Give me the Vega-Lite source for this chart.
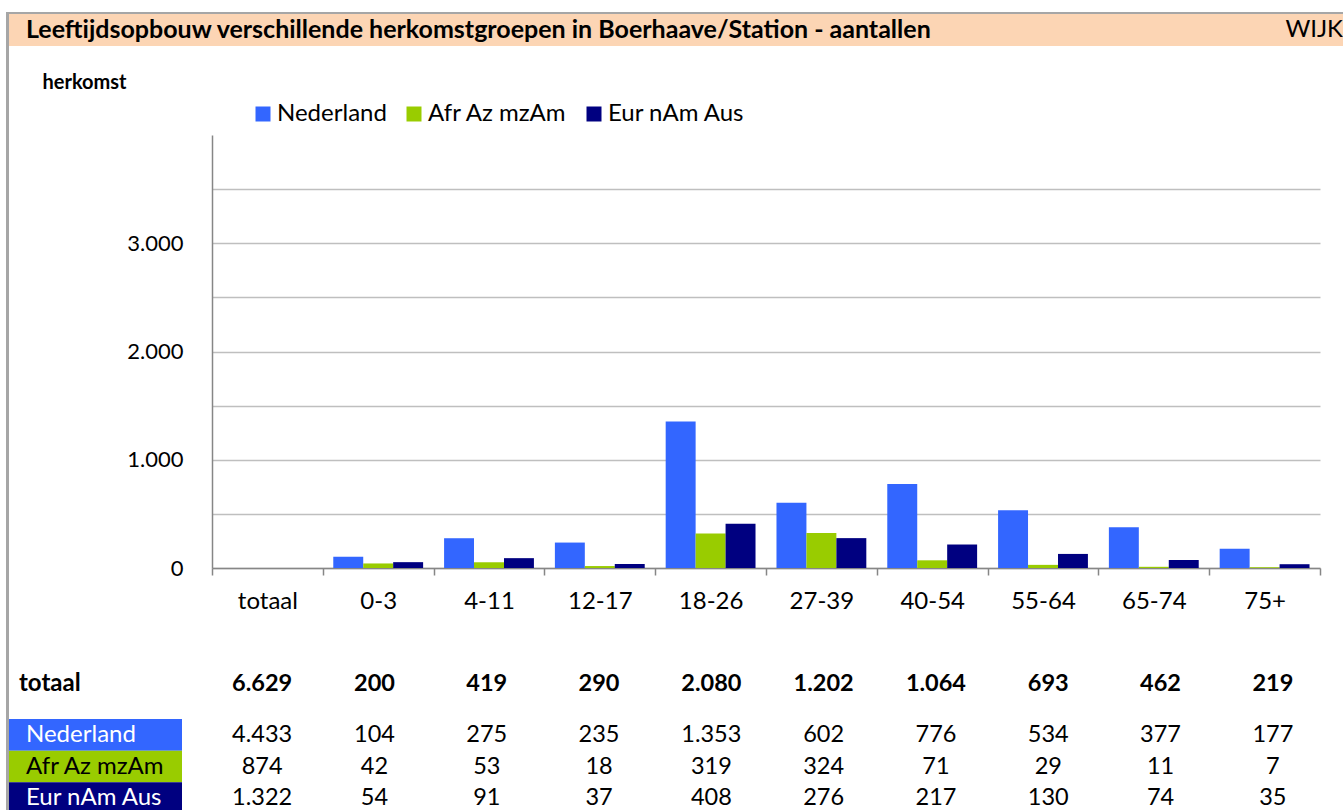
{
  "$schema": "https://vega.github.io/schema/vega-lite/v6.json",
  "background": "white",
  "padding": {"left": 6, "top": 12, "right": 0, "bottom": 0},
  "config": {
    "font": "Lato",
    "view": {"stroke": null},
    "locale": {"number": {"decimal": ",", "thousands": ".", "grouping": [3], "currency": ["€", ""]}},
    "text": {"fontSize": 23, "color": "black"}
  },
  "datasets": {
    "aantallen": [
      {"herkomst": "Nederland", "leeftijd": "totaal", "aantal": 4433},
      {"herkomst": "Nederland", "leeftijd": "0-3", "aantal": 104},
      {"herkomst": "Nederland", "leeftijd": "4-11", "aantal": 275},
      {"herkomst": "Nederland", "leeftijd": "12-17", "aantal": 235},
      {"herkomst": "Nederland", "leeftijd": "18-26", "aantal": 1353},
      {"herkomst": "Nederland", "leeftijd": "27-39", "aantal": 602},
      {"herkomst": "Nederland", "leeftijd": "40-54", "aantal": 776},
      {"herkomst": "Nederland", "leeftijd": "55-64", "aantal": 534},
      {"herkomst": "Nederland", "leeftijd": "65-74", "aantal": 377},
      {"herkomst": "Nederland", "leeftijd": "75+", "aantal": 177},
      {"herkomst": "Afr Az mzAm", "leeftijd": "totaal", "aantal": 874},
      {"herkomst": "Afr Az mzAm", "leeftijd": "0-3", "aantal": 42},
      {"herkomst": "Afr Az mzAm", "leeftijd": "4-11", "aantal": 53},
      {"herkomst": "Afr Az mzAm", "leeftijd": "12-17", "aantal": 18},
      {"herkomst": "Afr Az mzAm", "leeftijd": "18-26", "aantal": 319},
      {"herkomst": "Afr Az mzAm", "leeftijd": "27-39", "aantal": 324},
      {"herkomst": "Afr Az mzAm", "leeftijd": "40-54", "aantal": 71},
      {"herkomst": "Afr Az mzAm", "leeftijd": "55-64", "aantal": 29},
      {"herkomst": "Afr Az mzAm", "leeftijd": "65-74", "aantal": 11},
      {"herkomst": "Afr Az mzAm", "leeftijd": "75+", "aantal": 7},
      {"herkomst": "Eur nAm Aus", "leeftijd": "totaal", "aantal": 1322},
      {"herkomst": "Eur nAm Aus", "leeftijd": "0-3", "aantal": 54},
      {"herkomst": "Eur nAm Aus", "leeftijd": "4-11", "aantal": 91},
      {"herkomst": "Eur nAm Aus", "leeftijd": "12-17", "aantal": 37},
      {"herkomst": "Eur nAm Aus", "leeftijd": "18-26", "aantal": 408},
      {"herkomst": "Eur nAm Aus", "leeftijd": "27-39", "aantal": 276},
      {"herkomst": "Eur nAm Aus", "leeftijd": "40-54", "aantal": 217},
      {"herkomst": "Eur nAm Aus", "leeftijd": "55-64", "aantal": 130},
      {"herkomst": "Eur nAm Aus", "leeftijd": "65-74", "aantal": 74},
      {"herkomst": "Eur nAm Aus", "leeftijd": "75+", "aantal": 35}
    ],
    "totalen": [
      {"leeftijd": "totaal", "aantal": 6629},
      {"leeftijd": "0-3", "aantal": 200},
      {"leeftijd": "4-11", "aantal": 419},
      {"leeftijd": "12-17", "aantal": 290},
      {"leeftijd": "18-26", "aantal": 2080},
      {"leeftijd": "27-39", "aantal": 1202},
      {"leeftijd": "40-54", "aantal": 1064},
      {"leeftijd": "55-64", "aantal": 693},
      {"leeftijd": "65-74", "aantal": 462},
      {"leeftijd": "75+", "aantal": 219}
    ],
    "kop": [
      {"deel": "titel", "tekst": "Leeftijdsopbouw verschillende herkomstgroepen in Boerhaave/Station - aantallen"},
      {"deel": "niveau", "tekst": "WIJK"}
    ]
  },
  "spacing": 0,
  "resolve": {"scale": {"color": "independent", "fill": "independent"}, "legend": {"color": "independent", "fill": "independent"}},
  "hconcat": [
    {
      "width": 3, "height": 804,
      "view": {"fill": "#A6A6A6", "stroke": null},
      "data": {"values": [{}]},
      "mark": {"type": "point", "size": 0, "strokeWidth": 0, "opacity": 0}
    },
    {
      "spacing": 0,
      "resolve": {"scale": {"color": "independent", "fill": "independent"}, "legend": {"color": "independent", "fill": "independent"}},
      "vconcat": [
        {
          "width": 1334, "height": 2,
          "view": {"fill": "#A6A6A6", "stroke": null},
          "data": {"values": [{}]},
          "mark": {"type": "point", "size": 0, "strokeWidth": 0, "opacity": 0}
        },
        {
          "width": 1334, "height": 32,
          "view": {"fill": "#FCD5B4", "stroke": null},
          "data": {"name": "kop"},
          "layer": [
            {
              "transform": [{"filter": "datum.deel === 'titel'"}],
              "mark": {"type": "text", "align": "left", "baseline": "middle", "dx": 17, "fontSize": 25, "fontWeight": "bold"},
              "encoding": {
                "x": {"datum": 0, "type": "quantitative", "scale": {"domain": [0, 1]}, "axis": null},
                "text": {"field": "tekst"}
              }
            },
            {
              "transform": [{"filter": "datum.deel === 'niveau'"}],
              "mark": {"type": "text", "align": "right", "baseline": "middle", "dx": 0, "fontSize": 24},
              "encoding": {
                "x": {"datum": 1, "type": "quantitative", "scale": {"domain": [0, 1]}, "axis": null},
                "text": {"field": "tekst"}
              }
            }
          ]
        },
        {
          "width": 1, "height": 26,
          "data": {"values": [{}]},
          "mark": {"type": "point", "size": 0, "strokeWidth": 0, "opacity": 0}
        },
        {
          "spacing": 0,
          "resolve": {"scale": {"color": "independent"}, "legend": {"color": "independent"}},
          "hconcat": [
            {
              "width": 33, "height": 533,
              "data": {"values": [{}]},
              "mark": {"type": "point", "size": 0, "strokeWidth": 0, "opacity": 0}
            },
            {
              "width": 1108, "height": 433,
              "data": {"name": "aantallen"},
              "transform": [{"filter": "datum.leeftijd !== 'totaal'"}],
              "mark": {"type": "bar"},
              "encoding": {
                "x": {
                  "field": "leeftijd", "type": "nominal",
                  "scale": {"domain": ["totaal", "0-3", "4-11", "12-17", "18-26", "27-39", "40-54", "55-64", "65-74", "75+"], "paddingInner": 0, "paddingOuter": 0},
                  "axis": {"title": null, "labelAngle": 0, "labelFontSize": 24, "labelColor": "black", "labelPadding": 14, "tickBand": "extent", "tickSize": 7, "tickColor": "#868686", "tickWidth": 1.5, "domainColor": "#868686", "domainWidth": 1.5, "grid": false}
                },
                "xOffset": {
                  "field": "herkomst", "type": "nominal",
                  "scale": {"domain": ["Nederland", "Afr Az mzAm", "Eur nAm Aus"], "paddingInner": 0, "paddingOuter": 0.35}
                },
                "y": {
                  "field": "aantal", "type": "quantitative",
                  "scale": {"domain": [0, 4000], "nice": false},
                  "axis": {
                    "values": [0, 500, 1000, 1500, 2000, 2500, 3000, 3500],
                    "labelExpr": "datum.value % 1000 === 0 ? format(datum.value, ',') : ''",
                    "labelFontSize": 22, "labelColor": "black", "labelPadding": 29,
                    "ticks": false,
                    "domainColor": "#868686", "domainWidth": 1.5,
                    "grid": true, "gridColor": "#BFBFBF", "gridWidth": 1.3,
                    "title": "herkomst", "titleAngle": 0, "titleAlign": "left", "titleBaseline": "top",
                    "titleX": -170, "titleY": -63, "titleFontSize": 20, "titleFontWeight": "bold", "titleColor": "black"
                  }
                },
                "color": {
                  "field": "herkomst", "type": "nominal",
                  "scale": {"domain": ["Nederland", "Afr Az mzAm", "Eur nAm Aus"], "range": ["#3366FF", "#99CC00", "#000080"]},
                  "legend": {
                    "title": null, "orient": "none", "legendX": 39, "legendY": -33, "direction": "horizontal",
                    "symbolType": "square", "symbolSize": 225, "symbolStrokeWidth": 0,
                    "labelFontSize": 24, "labelColor": "black", "labelOffset": 2, "columnPadding": 15, "labelLimit": 300
                  }
                }
              }
            }
          ]
        },
        {
          "spacing": 24,
          "hconcat": [
            {
              "width": 173, "height": 32,
              "data": {"values": [{"label": "totaal"}]},
              "mark": {"type": "text", "align": "left", "baseline": "middle", "dx": 10, "fontSize": 24, "fontWeight": "bold"},
              "encoding": {
                "x": {"datum": 0, "type": "quantitative", "scale": {"domain": [0, 1]}, "axis": null},
                "text": {"field": "label"}
              }
            },
            {
              "width": 1123, "height": 32,
              "data": {"name": "totalen"},
              "mark": {"type": "text", "baseline": "middle", "fontSize": 23.5, "fontWeight": "bold"},
              "encoding": {
                "x": {
                  "field": "leeftijd", "type": "nominal",
                  "scale": {"domain": ["totaal", "0-3", "4-11", "12-17", "18-26", "27-39", "40-54", "55-64", "65-74", "75+"], "paddingInner": 0, "paddingOuter": 0},
                  "axis": null
                },
                "text": {"field": "aantal", "type": "quantitative", "format": ","}
              }
            }
          ]
        },
        {
          "width": 1, "height": 19,
          "data": {"values": [{}]},
          "mark": {"type": "point", "size": 0, "strokeWidth": 0, "opacity": 0}
        },
        {
          "spacing": 24,
          "resolve": {"scale": {"fill": "independent"}, "legend": {"fill": "independent"}},
          "hconcat": [
            {
              "width": 173, "height": 95,
              "data": {"values": [{"herkomst": "Nederland"}, {"herkomst": "Afr Az mzAm"}, {"herkomst": "Eur nAm Aus"}]},
              "layer": [
                {
                  "mark": {"type": "rect"},
                  "encoding": {
                    "x": {"datum": 0, "type": "quantitative", "scale": {"domain": [0, 1]}, "axis": null},
                    "x2": {"datum": 1},
                    "y": {"field": "herkomst", "type": "nominal", "scale": {"domain": ["Nederland", "Afr Az mzAm", "Eur nAm Aus"], "paddingInner": 0, "paddingOuter": 0}, "axis": null},
                    "fill": {"field": "herkomst", "type": "nominal", "scale": {"domain": ["Nederland", "Afr Az mzAm", "Eur nAm Aus"], "range": ["#3366FF", "#99CC00", "#000080"]}, "legend": null}
                  }
                },
                {
                  "mark": {"type": "text", "align": "left", "baseline": "middle", "dx": 17, "fontSize": 24},
                  "encoding": {
                    "x": {"datum": 0, "type": "quantitative"},
                    "y": {"field": "herkomst", "type": "nominal"},
                    "text": {"field": "herkomst"},
                    "color": {"condition": {"test": "datum.herkomst === 'Afr Az mzAm'", "value": "black"}, "value": "white"}
                  }
                }
              ]
            },
            {
              "width": 1123, "height": 95,
              "data": {"name": "aantallen"},
              "mark": {"type": "text", "baseline": "middle", "fontSize": 23.5},
              "encoding": {
                "x": {
                  "field": "leeftijd", "type": "nominal",
                  "scale": {"domain": ["totaal", "0-3", "4-11", "12-17", "18-26", "27-39", "40-54", "55-64", "65-74", "75+"], "paddingInner": 0, "paddingOuter": 0},
                  "axis": null
                },
                "y": {"field": "herkomst", "type": "nominal", "scale": {"domain": ["Nederland", "Afr Az mzAm", "Eur nAm Aus"], "paddingInner": 0, "paddingOuter": 0}, "axis": null},
                "text": {"field": "aantal", "type": "quantitative", "format": ","}
              }
            }
          ]
        }
      ]
    }
  ]
}
